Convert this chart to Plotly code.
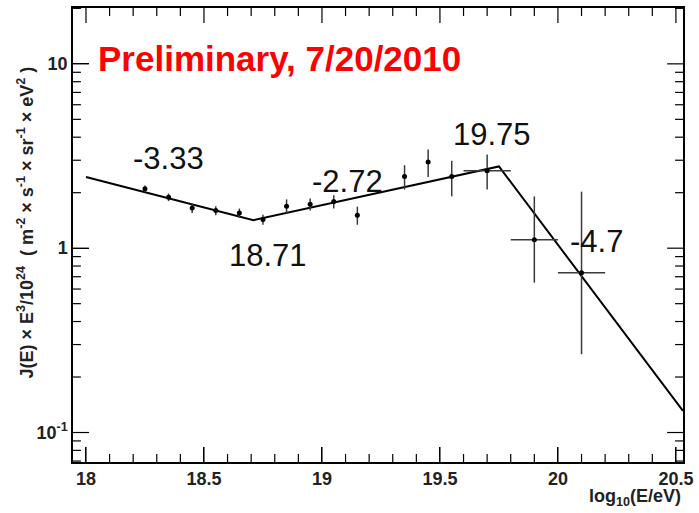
import math
import plotly.graph_objects as go

# Measured flux points: log10(E/eV) bins and E^3 J(E) / 1e24
log_e = [18.25, 18.35, 18.45, 18.55, 18.65, 18.75, 18.85, 18.95, 19.05, 19.15,
         19.35, 19.45, 19.55, 19.70, 19.90, 20.10]
flux = [2.10, 1.89, 1.65, 1.60, 1.55, 1.43, 1.69, 1.73, 1.79, 1.51,
        2.45, 2.93, 2.45, 2.63, 1.11, 0.736]
err_up = [0.09, 0.09, 0.10, 0.09, 0.09, 0.09, 0.15, 0.13, 0.15, 0.17,
          0.37, 0.50, 0.53, 0.59, 0.80, 1.29]
err_down = [0.09, 0.09, 0.10, 0.09, 0.09, 0.09, 0.15, 0.13, 0.15, 0.17,
            0.37, 0.50, 0.54, 0.55, 0.46, 0.47]
bin_half = [0, 0, 0, 0, 0, 0, 0, 0, 0, 0, 0, 0, 0, 0.1, 0.1, 0.1]

# Broken power-law fit: break energies and spectral indices
breaks = [18.71, 19.75]
indices = [-3.33, -2.72, -4.7]
fit_start, fit_end = 18.0, 20.53
norm_at_ankle = 1.42  # E^3 J at the first break

# Vertices of the fit in log space (slope of E^3 J is gamma + 3)
fit_x = [fit_start, breaks[0], breaks[1], fit_end]
log_ankle = math.log10(norm_at_ankle)
log_start = log_ankle - (indices[0] + 3) * (breaks[0] - fit_start)
log_b2 = log_ankle + (indices[1] + 3) * (breaks[1] - breaks[0])
log_end = log_b2 + (indices[2] + 3) * (fit_end - breaks[1])
fit_y = [10 ** v for v in (log_start, log_ankle, log_b2, log_end)]

# Axis ranges and ticks
x_range = [17.945, 20.53]
y_range = [-1.16, 1.303]
x_major = [18.0, 18.5, 19.0, 19.5, 20.0, 20.5]
x_major_text = ["18", "18.5", "19", "19.5", "20", "20.5"]
x_minor = [round(18.0 + 0.1 * i, 1) for i in range(26) if i % 5 != 0]
y_major = [0.1, 1, 10]
y_major_text = ["10<sup>-1</sup>", "1", "10"]
y_minor = [0.07, 0.08, 0.09, 0.2, 0.3, 0.4, 0.5, 0.6, 0.7, 0.8, 0.9,
           2, 3, 4, 5, 6, 7, 8, 9, 20]

W, H = 699, 513
MARGIN = dict(l=73, r=11, t=6, b=51)
FONT = "Liberation Sans, Arial, sans-serif"

# axis scale: data units per screen pixel
plot_w = W - MARGIN["l"] - MARGIN["r"]
plot_h = H - MARGIN["t"] - MARGIN["b"]
x_per_px = (x_range[1] - x_range[0]) / plot_w
dec_per_px = (y_range[1] - y_range[0]) / plot_h
y_lo, y_hi = 10 ** y_range[0], 10 ** y_range[1]

fig = go.Figure()

# Inside tick marks on all four frame sides, drawn as one-sided error bars
hidden = dict(size=1, color="rgba(0,0,0,0)")
bar = dict(color="black", thickness=1.2, width=0, type="data", symmetric=False)
xt = x_major + x_minor
xlen = [15] * len(x_major) + [8] * len(x_minor)
yt = y_major + y_minor
ylen = [16] * len(y_major) + [8] * len(y_minor)

# bottom and top: vertical tick bars
fig.add_trace(go.Scatter(
    x=xt, y=[y_lo] * len(xt), mode="markers", marker=hidden, hoverinfo="skip",
    error_y=dict(bar, array=[y_lo * (10 ** (n * dec_per_px) - 1) for n in xlen],
                 arrayminus=[0] * len(xt)),
    showlegend=False, cliponaxis=False,
))
fig.add_trace(go.Scatter(
    x=xt, y=[y_hi] * len(xt), mode="markers", marker=hidden, hoverinfo="skip",
    error_y=dict(bar, array=[0] * len(xt),
                 arrayminus=[y_hi * (1 - 10 ** (-n * dec_per_px)) for n in xlen]),
    showlegend=False, cliponaxis=False,
))
# left and right: horizontal tick bars
fig.add_trace(go.Scatter(
    x=[x_range[0]] * len(yt), y=yt, mode="markers", marker=hidden, hoverinfo="skip",
    error_x=dict(bar, array=[n * x_per_px for n in ylen], arrayminus=[0] * len(yt)),
    showlegend=False, cliponaxis=False,
))
fig.add_trace(go.Scatter(
    x=[x_range[1]] * len(yt), y=yt, mode="markers", marker=hidden, hoverinfo="skip",
    error_x=dict(bar, array=[0] * len(yt), arrayminus=[n * x_per_px for n in ylen]),
    showlegend=False, cliponaxis=False,
))

fig.add_trace(go.Scatter(
    x=fit_x, y=fit_y, mode="lines",
    line=dict(color="black", width=2),
    hoverinfo="skip", showlegend=False,
))

fig.add_trace(go.Scatter(
    x=log_e, y=flux, mode="markers",
    marker=dict(color="black", size=5),
    error_y=dict(type="data", symmetric=False, array=err_up, arrayminus=err_down,
                 color="#3a3a3a", thickness=1.5, width=0),
    error_x=dict(type="data", array=bin_half, color="#3a3a3a", thickness=1.5, width=0),
    showlegend=False,
))

label_font = dict(family=FONT, size=31, color="#111111")
fit_labels = [
    ("-3.33", 18.35, 0.487),
    ("18.71", 18.77, -0.038),
    ("-2.72", 19.11, 0.362),
    ("19.75", 19.72, 0.616),
    ("-4.7", 20.165, 0.038),
]
for text, lx, ly in fit_labels:
    fig.add_annotation(x=lx, y=ly, xref="x", yref="y", text=text, showarrow=False,
                       font=label_font, xanchor="center", yanchor="middle")

fig.add_annotation(
    x=0.037, y=0.888, xref="paper", yref="paper",
    text="<b>Preliminary, 7/20/2010</b>", showarrow=False,
    font=dict(family=FONT, size=35, color="#ff0000"),
    xanchor="left", yanchor="middle",
)

fig.add_annotation(
    x=-0.078, y=0.5285, xref="paper", yref="paper", textangle=-90,
    text="<b>J(E) × E<sup>3</sup>/10<sup>24</sup>  ( m<sup>-2</sup> × s<sup>-1</sup> × "
         "sr<sup>-1</sup> × eV<sup>2</sup> )</b>",
    showarrow=False,
    font=dict(family=FONT, size=18, color="#222222"),
    xanchor="center", yanchor="middle",
)

fig.add_annotation(
    x=1.0, y=-0.079, xref="paper", yref="paper",
    text="<b>log<sub>10</sub>(E/eV)</b>", showarrow=False,
    font=dict(family=FONT, size=18, color="#222222"),
    xanchor="right", yanchor="middle",
)

tick_font = dict(family=FONT, size=18, color="#222222")

fig.update_layout(
    width=W, height=H,
    margin=MARGIN,
    plot_bgcolor="white", paper_bgcolor="white",
    showlegend=False,
    xaxis=dict(
        range=x_range, showgrid=False, zeroline=False,
        showline=True, linecolor="black", linewidth=1.5, mirror=True,
        ticks="inside", ticklen=15, tickwidth=1.2, tickcolor="black",
        tickmode="array", tickvals=x_major,
        ticktext=[f"<b>{t}</b>" for t in x_major_text],
        tickfont=tick_font,
    ),
    yaxis=dict(
        type="log", range=y_range, showgrid=False, zeroline=False,
        showline=True, linecolor="black", linewidth=1.5, mirror=True,
        ticks="inside", ticklen=16, tickwidth=1.2, tickcolor="black",
        tickmode="array", tickvals=y_major,
        ticktext=[f"<b>{t}</b>" for t in y_major_text],
        tickfont=tick_font,
    ),
)

fig.write_html("out.html")
